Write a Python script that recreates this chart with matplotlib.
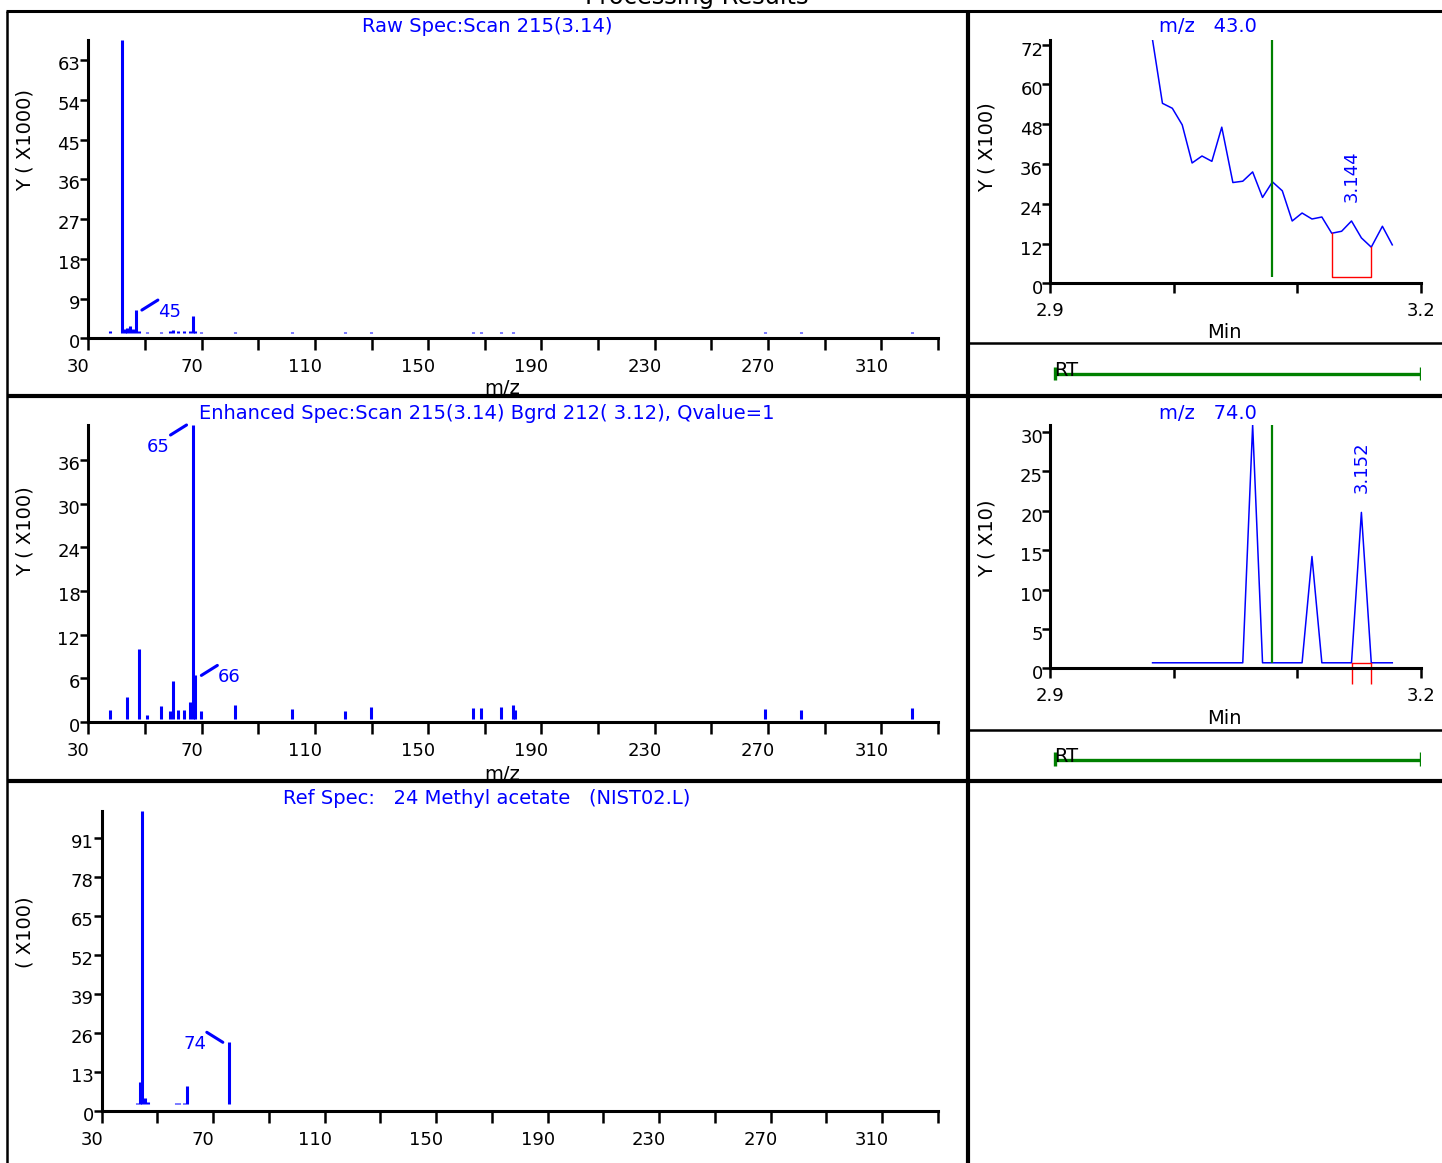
import matplotlib
matplotlib.use("Agg")
import matplotlib.pyplot as plt
from matplotlib.lines import Line2D
from matplotlib.transforms import ScaledTranslation
import numpy as np

W, H, DPI = 1442, 1163, 100
BLUE, GREEN, RED = "#0000ff", "#008000", "#ff0000"

plt.rcParams["font.family"] = ["DejaVu Sans"]

# ----------------------------
# Spectra (m/z, abundance in axis units)
# ----------------------------
raw_mz = [36, 40, 41, 42, 43, 44, 45, 46, 49, 54, 57, 58, 60, 62, 64, 65, 66, 68,
          80, 100, 119, 128, 164, 167, 174, 178, 267, 280, 319]
raw_int = [1.6, 67.6, 2.0, 2.4, 2.8, 2.2, 6.4, 1.6, 1.5, 1.5, 1.6, 1.9, 1.6, 1.6, 1.7, 5.1, 1.7, 1.5,
           1.5, 1.5, 1.5, 1.5, 1.5, 1.5, 1.5, 1.5, 1.5, 1.5, 1.5]

enh_mz = [36, 42, 46, 49, 54, 57, 58, 60, 62, 64, 65, 66, 68, 80, 100, 119, 128,
          164, 167, 174, 178, 179, 267, 280, 319]
enh_int = [1.65, 3.5, 10.0, 0.9, 2.2, 1.55, 5.6, 1.65, 1.65, 2.8, 40.8, 6.4, 1.55, 2.3, 1.8, 1.55, 2.0,
           1.9, 1.9, 2.0, 2.3, 1.7, 1.8, 1.7, 1.9]

ref_mz = [41, 42, 43, 44, 45, 55, 56, 58, 59, 74]
ref_int = [2.7, 9.7, 100.0, 4.2, 3.0, 2.6, 2.6, 2.6, 8.2, 22.8]

mz_tick_labels = ["30", "70", "110", "150", "190", "230", "270", "310"]

# ----------------------------
# Extracted ion chromatograms
# ----------------------------
scan_rt = [2.983, 2.991, 2.999, 3.007, 3.015, 3.023, 3.031, 3.039, 3.048, 3.056, 3.064, 3.072, 3.080,
           3.088, 3.096, 3.104, 3.112, 3.120, 3.128, 3.136, 3.144, 3.152, 3.160, 3.169, 3.177]
ion43 = [73.4, 54.3, 52.8, 47.8, 36.3, 38.4, 36.8, 47.1, 30.4, 30.8, 33.6, 25.9, 30.6,
         27.9, 18.8, 21.2, 19.4, 20.0, 15.1, 15.7, 18.8, 13.7, 10.9, 17.2, 11.6]
ion74 = [0.7, 0.7, 0.7, 0.7, 0.7, 0.7, 0.7, 0.7, 0.7, 0.7, 30.9, 0.7, 0.7,
         0.7, 0.7, 0.7, 14.2, 0.7, 0.7, 0.7, 0.7, 19.8, 0.7, 0.7, 0.7]

cursor_rt = 3.080
peak43_rt, peak43_win, peak43_base = 3.144, (3.128, 3.160), 1.9
peak74_rt, peak74_win, peak74_base, peak74_drop = 3.152, (3.144, 3.160), 0.7, -2.0
rt_window = (2.904, 3.2)

TXT = 14.0
TICK = 13.0

fig = plt.figure(figsize=(W / DPI, H / DPI), dpi=DPI)


def axes_px(l, t, r, b):
    return fig.add_axes([l / W, 1 - b / H, (r - l) / W, (b - t) / H])


def shift(trans, dx, dy):
    # dx, dy in pixels; positive dy goes down the page
    return trans + ScaledTranslation(dx / DPI, -dy / DPI, fig.dpi_scale_trans)


def fig_line(x0, y0, x1, y1, lw):
    fig.add_artist(Line2D([x0 / W, x1 / W], [1 - y0 / H, 1 - y1 / H], color="black",
                          lw=lw, transform=fig.transFigure, zorder=10, solid_capstyle="butt"))


def fig_text(x, y, s, **kw):
    fig.text(x / W, 1 - y / H, s, ha="center", va="center", zorder=5, **kw)


def base_style(ax, xlen, ylen):
    for s in ("top", "right"):
        ax.spines[s].set_visible(False)
    for s in ("left", "bottom"):
        ax.spines[s].set_linewidth(2.2)
    ax.tick_params(axis="x", direction="out", length=xlen, width=1.8, labelbottom=False)
    ax.tick_params(axis="y", direction="out", length=ylen, width=1.8, labelleft=False)
    ax.patch.set_alpha(0)


def ytick_text(ax, ticks, dx, dy):
    for v in ticks:
        ax.text(0, v, str(v), transform=shift(ax.get_yaxis_transform(), dx, dy),
                ha="right", va="center", fontsize=TICK)


def spectrum(box, mz, inten, base, x0, ymax, yticks, labels):
    ax = axes_px(*box)
    ax.vlines(mz, base, inten, colors=BLUE, lw=2.2)
    ax.set_xlim(x0, x0 + 300)
    ax.set_ylim(0, ymax)
    base_style(ax, 8.6, 5.8)
    ax.set_xticks(np.arange(x0, x0 + 301, 20))
    ax.set_yticks(yticks)
    ytick_text(ax, yticks, -8, 5)
    for k, lab in enumerate(mz_tick_labels):
        ax.text(x0 + 40 * k, 0, lab, transform=shift(ax.get_xaxis_transform(), -10, 29),
                ha="center", va="center", fontsize=TICK)
    # labelled peaks with a short leader
    for m in labels:
        top = inten[mz.index(m)]
        side, up = labels[m]
        p0 = shift(ax.transData, 6 * side, 0)
        p1 = shift(ax.transData, 22 * side, -10 if up else 10)
        ax.annotate("", xy=(m, top), xycoords=p1, xytext=(m, top), textcoords=p0,
                    arrowprops=dict(arrowstyle="-", color=BLUE, lw=2.2,
                                    shrinkA=0, shrinkB=0), annotation_clip=False)
        ax.text(m, top, str(m), transform=shift(ax.transData, 34 * side, 2 if up else 22),
                ha="center", va="center", color=BLUE, fontsize=TICK, clip_on=False)
    return ax


# ====== spectra ======
spectrum((88.3, 40, 938, 338.3), raw_mz, raw_int, 1.27, 28.2, 67.6,
         [0, 9, 18, 27, 36, 45, 54, 63], {45: (1, True)})
spectrum((88.3, 425, 938, 722), enh_mz, enh_int, 0.45, 28.2, 40.8,
         [0, 6, 12, 18, 24, 30, 36], {65: (-1, False), 66: (1, True)})
spectrum((101.7, 810.7, 938, 1110.7), ref_mz, ref_int, 2.1, 28.4, 100,
         [0, 13, 26, 39, 52, 65, 78, 91], {74: (-1, True)})

fig_text(487, 27, "Raw Spec:Scan 215(3.14)", color=BLUE, fontsize=TXT)
fig_text(487, 413, "Enhanced Spec:Scan 215(3.14) Bgrd 212( 3.12), Qvalue=1", color=BLUE, fontsize=TXT)
fig_text(487, 799, "Ref Spec:   24 Methyl acetate   (NIST02.L)", color=BLUE, fontsize=TXT)
fig_text(502, 388, "m/z", fontsize=TXT)
fig_text(502, 774, "m/z", fontsize=TXT)
fig_text(25, 140, "Y ( X1000)", fontsize=TXT, rotation=90)
fig_text(25, 531, "Y ( X100)", fontsize=TXT, rotation=90)
fig_text(25, 932, "( X100)", fontsize=TXT, rotation=90)


# ====== chromatograms ======
def chromatogram(box, values, ymax, yticks, peak_rt, strip):
    ax = axes_px(*box)
    ax.plot(scan_rt, values, color=BLUE, lw=1.1)
    ax.set_xlim(2.9, 3.2)
    ax.set_ylim(0, ymax)
    base_style(ax, 7.2, 5.8)
    ax.set_xticks([2.9, 3.0, 3.1, 3.2])
    ax.set_yticks(yticks)
    ytick_text(ax, yticks, -7, 6)
    for v in (2.9, 3.2):
        ax.text(v, 0, f"{v:.1f}", transform=shift(ax.get_xaxis_transform(), 0, 28),
                ha="center", va="center", fontsize=TICK)
    y_peak = values[scan_rt.index(peak_rt)]
    ax.text(peak_rt, y_peak, f"{peak_rt:.3f}", transform=shift(ax.transData, 0, -19),
            rotation=90, ha="center", va="bottom", color=BLUE, fontsize=TICK)

    # RT window strip under the plot
    st = axes_px(*strip)
    st.set_xlim(2.9, 3.2)
    st.set_ylim(0, 1)
    st.axis("off")
    st.plot(rt_window, [0.4, 0.4], color=GREEN, lw=2.4, solid_capstyle="butt")
    st.vlines(rt_window, 0.28, 0.54, color=GREEN, lw=2.4)
    st.text(2.9, 0.47, "RT", transform=shift(st.transData, 16, 0), ha="center",
            va="center", fontsize=TXT)
    return ax


ax43 = chromatogram((1050, 40, 1420.7, 283.3), ion43, 73.4, [0, 12, 24, 36, 48, 60, 72],
                    peak43_rt, (1050, 343, 1420.7, 395))
ax43.vlines(cursor_rt, peak43_base, 73.4, color=GREEN, lw=1.6)
t0, t1 = peak43_win
ax43.plot([t0, t0, t1, t1], [ion43[scan_rt.index(t0)], peak43_base, peak43_base,
                             ion43[scan_rt.index(t1)]], color=RED, lw=1.0)

ax74 = chromatogram((1050, 425, 1420.7, 668.3), ion74, 30.9, [0, 5, 10, 15, 20, 25, 30],
                    peak74_rt, (1050, 729, 1420.7, 780))
ax74.vlines(cursor_rt, peak74_base, 30.9, color=GREEN, lw=1.6)
t0, t1 = peak74_win
ax74.plot([t0, t1], [peak74_base, peak74_base], color=RED, lw=1.0, clip_on=False)
ax74.vlines([t0, t1], peak74_drop, peak74_base, color=RED, lw=1.0, clip_on=False)

fig_text(1208, 27, "m/z   43.0", color=BLUE, fontsize=TXT)
fig_text(1208, 413, "m/z   74.0", color=BLUE, fontsize=TXT)
fig_text(1224, 333, "Min", fontsize=TXT)
fig_text(1224, 718, "Min", fontsize=TXT)
fig_text(987, 147, "Y ( X100)", fontsize=TXT, rotation=90)
fig_text(987, 538, "Y ( X10)", fontsize=TXT, rotation=90)

# ====== page title and panel frames ======
fig.text(697 / W, 1 - 4 / H, "Processing Results", ha="center", va="baseline", fontsize=17.4)

fig_line(6, 11, 1442, 11, 2.2)
fig_line(7, 11, 7, 1163, 1.8)
fig_line(968, 11, 968, 1163, 3.0)
fig_line(7, 396, 1442, 396, 3.0)
fig_line(7, 781, 1442, 781, 3.0)
fig_line(968, 343, 1442, 343, 1.8)
fig_line(968, 729.5, 1442, 729.5, 1.8)

fig.savefig("out.png", dpi=DPI)
